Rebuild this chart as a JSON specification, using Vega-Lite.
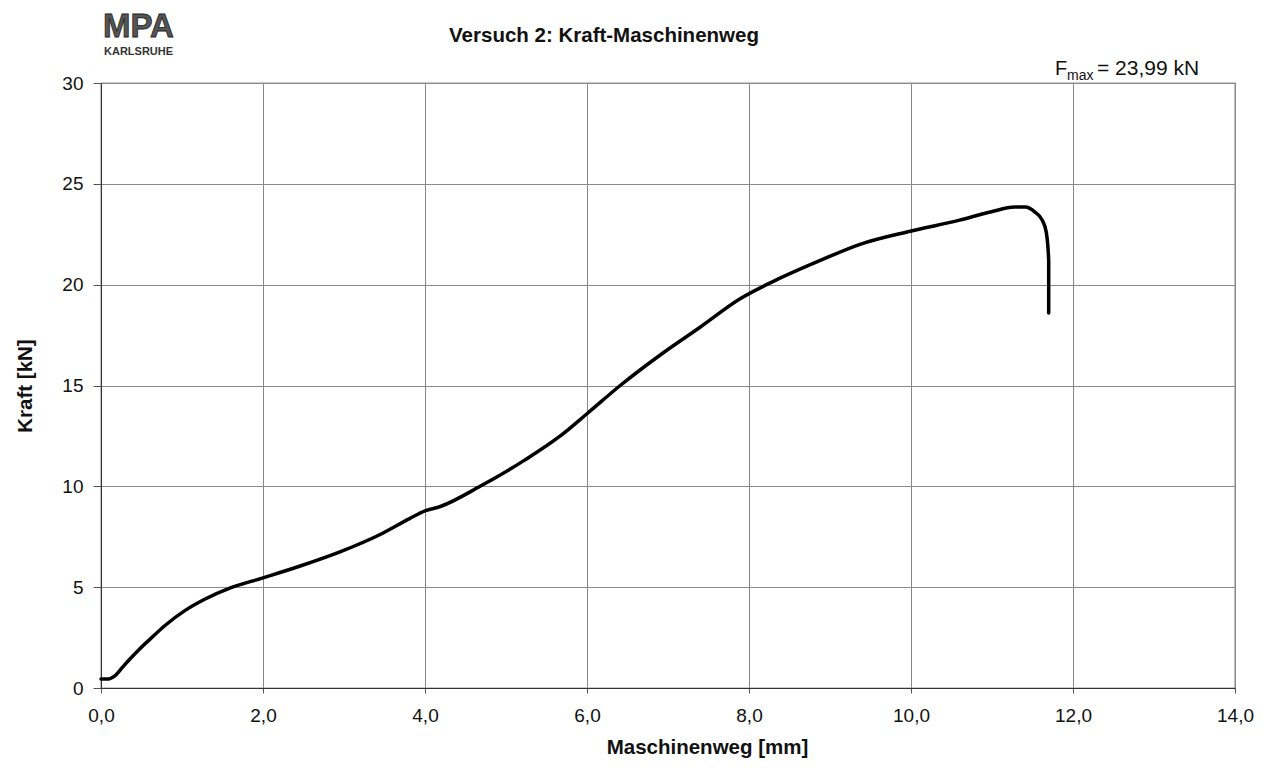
{
  "$schema": "https://vega.github.io/schema/vega-lite/v6.json",
  "width": 1134,
  "height": 605,
  "autosize": {"type": "none"},
  "padding": {"left": 101, "top": 83, "right": 35, "bottom": 80},
  "background": "#ffffff",
  "title": {
    "text": "Versuch 2: Kraft-Maschinenweg",
    "font": "Liberation Sans",
    "fontSize": 20.5,
    "fontWeight": "bold",
    "color": "#111111",
    "anchor": "middle",
    "dx": -64,
    "offset": -35
  },
  "config": {
    "view": {"stroke": "#333333", "strokeWidth": 1.2},
    "font": "Liberation Sans"
  },
  "datasets": {
    "curve": [
      {"weg": 0.0, "kraft": 0.45},
      {"weg": 0.09, "kraft": 0.45},
      {"weg": 0.17, "kraft": 0.6},
      {"weg": 0.27, "kraft": 1.05},
      {"weg": 0.36, "kraft": 1.45},
      {"weg": 0.48, "kraft": 1.95},
      {"weg": 0.6, "kraft": 2.4},
      {"weg": 0.79, "kraft": 3.1},
      {"weg": 1.04, "kraft": 3.85},
      {"weg": 1.28, "kraft": 4.4},
      {"weg": 1.59, "kraft": 4.95},
      {"weg": 1.99, "kraft": 5.45},
      {"weg": 2.46, "kraft": 6.05},
      {"weg": 2.95, "kraft": 6.75},
      {"weg": 3.44, "kraft": 7.6},
      {"weg": 3.81, "kraft": 8.4},
      {"weg": 4.0, "kraft": 8.78},
      {"weg": 4.19, "kraft": 9.0},
      {"weg": 4.68, "kraft": 10.0},
      {"weg": 5.23, "kraft": 11.3},
      {"weg": 5.67, "kraft": 12.5},
      {"weg": 6.0, "kraft": 13.6},
      {"weg": 6.41, "kraft": 15.0},
      {"weg": 6.9, "kraft": 16.5},
      {"weg": 7.4, "kraft": 17.9},
      {"weg": 7.89, "kraft": 19.3},
      {"weg": 8.32, "kraft": 20.2},
      {"weg": 8.88, "kraft": 21.2},
      {"weg": 9.37, "kraft": 22.0},
      {"weg": 9.99, "kraft": 22.65},
      {"weg": 10.6, "kraft": 23.2},
      {"weg": 10.98, "kraft": 23.6},
      {"weg": 11.28, "kraft": 23.85},
      {"weg": 11.41, "kraft": 23.85},
      {"weg": 11.53, "kraft": 23.6},
      {"weg": 11.62, "kraft": 23.2},
      {"weg": 11.67, "kraft": 22.6},
      {"weg": 11.7, "kraft": 21.2},
      {"weg": 11.7, "kraft": 18.6}
    ],
    "anno": [{"weg": 14, "kraft": 30}],
    "logo": [{"weg": 0, "kraft": 30}]
  },
  "layer": [
    {
      "data": {"name": "curve"},
      "mark": {"type": "line", "color": "#000000", "strokeWidth": 3.5, "interpolate": "monotone", "strokeCap": "round", "strokeJoin": "round"},
      "encoding": {
        "x": {
          "field": "weg",
          "type": "quantitative",
          "scale": {"domain": [0, 14], "nice": false, "zero": false},
          "axis": {
            "title": "Maschinenweg [mm]",
            "titleX": 606,
            "titleAnchor": "middle",
            "values": [0, 2, 4, 6, 8, 10, 12, 14],
            "labelExpr": "replace(format(datum.value, '.1f'), '.', ',')",
            "labelFont": "Liberation Sans",
            "labelFontSize": 19,
            "labelColor": "#111111",
            "labelPadding": 13,
            "labelFlush": false,
            "titleFont": "Liberation Sans",
            "titleFontSize": 20.5,
            "titleFontWeight": "bold",
            "titleColor": "#111111",
            "titlePadding": 12,
            "domainColor": "#333333",
            "tickColor": "#555555",
            "tickSize": 5,
            "grid": true,
            "gridColor": "#8a8a8a",
            "gridWidth": 1
          }
        },
        "y": {
          "field": "kraft",
          "type": "quantitative",
          "scale": {"domain": [0, 30], "nice": false},
          "axis": {
            "title": "Kraft [kN]",
            "values": [0, 5, 10, 15, 20, 25, 30],
            "labelFont": "Liberation Sans",
            "labelFontSize": 19,
            "labelColor": "#111111",
            "labelPadding": 10,
            "labelFlush": false,
            "titleFont": "Liberation Sans",
            "titleFontSize": 20.5,
            "titleFontWeight": "bold",
            "titleColor": "#111111",
            "titlePadding": 26,
            "domainColor": "#333333",
            "tickColor": "#555555",
            "tickSize": 8,
            "grid": true,
            "gridColor": "#8a8a8a",
            "gridWidth": 1
          }
        }
      }
    },
    {
      "data": {"name": "anno"},
      "mark": {"type": "text", "text": "F", "font": "Liberation Sans", "fontSize": 20, "align": "left", "baseline": "alphabetic", "dx": -180, "dy": -8, "color": "#111111"},
      "encoding": {"x": {"field": "weg", "type": "quantitative"}, "y": {"field": "kraft", "type": "quantitative"}}
    },
    {
      "data": {"name": "anno"},
      "mark": {"type": "text", "text": "max", "font": "Liberation Sans", "fontSize": 14, "align": "left", "baseline": "alphabetic", "dx": -168, "dy": -3, "color": "#111111"},
      "encoding": {"x": {"field": "weg", "type": "quantitative"}, "y": {"field": "kraft", "type": "quantitative"}}
    },
    {
      "data": {"name": "anno"},
      "mark": {"type": "text", "text": "= 23,99 kN", "font": "Liberation Sans", "fontSize": 21, "align": "left", "baseline": "alphabetic", "dx": -138, "dy": -8, "color": "#111111"},
      "encoding": {"x": {"field": "weg", "type": "quantitative"}, "y": {"field": "kraft", "type": "quantitative"}}
    },
    {
      "data": {"name": "logo"},
      "mark": {"type": "text", "text": "MPA", "font": "Liberation Sans", "fontSize": 33, "fontWeight": "bold", "align": "left", "baseline": "alphabetic", "dx": 2, "dy": -46, "color": "#555555", "stroke": "#222222", "strokeWidth": 0.8},
      "encoding": {"x": {"field": "weg", "type": "quantitative"}, "y": {"field": "kraft", "type": "quantitative"}}
    },
    {
      "data": {"name": "logo"},
      "mark": {"type": "text", "text": "KARLSRUHE", "font": "Liberation Sans", "fontSize": 11, "fontWeight": "bold", "align": "left", "baseline": "alphabetic", "dx": 3, "dy": -28, "color": "#333333"},
      "encoding": {"x": {"field": "weg", "type": "quantitative"}, "y": {"field": "kraft", "type": "quantitative"}}
    }
  ]
}
